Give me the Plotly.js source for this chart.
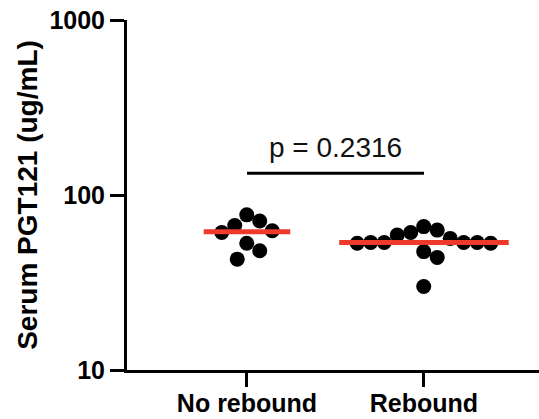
<!DOCTYPE html>
<html><head><meta charset="utf-8">
<script src="https://cdn.plot.ly/plotly-3.0.1.min.js"></script>
<style>html,body{margin:0;padding:0;background:#fff}#chart{width:539px;height:419px}</style>
</head><body><div id="chart"></div>
<script>
// ---- data ----
const categories = ['No rebound', 'Rebound'];
const noRebound = [77, 71, 67, 62.5, 61, 53, 48, 43];
const rebound = [66, 63, 61, 59, 56.5, 53.5, 53.5, 53.5, 53.5, 53, 53, 47.5, 44, 30];
const pValueText = 'p = 0.2316';
const yTickVals = [10, 100, 1000];
const yTickText = ['10', '100', '1000'];

// ---- layout constants ----
const W = 539, H = 419, M = {l: 127, r: 0, t: 20, b: 49};
const plotW = W - M.l - M.r, plotH = H - M.t - M.b;
const yRange = [1, 3];
const xRange = [-0.678, 1.65];
const pxPerX = plotW / (xRange[1] - xRange[0]);
const pxPerDecade = plotH / (yRange[1] - yRange[0]);
const DOT = 15;
const FONT = 'Liberation Sans, Arial, Helvetica, sans-serif';

// anisotropic greedy beeswarm (pixel offsets), then recentred
function swarm(vals, dx0, dy0) {
  const placed = [], out = [];
  vals.forEach(v => {
    const y = Math.log10(v) * pxPerDecade;
    let best = null;
    for (let k = 0; k < 800 && best === null; k++) {
      const cands = k === 0 ? [0] : [k * 0.5, -k * 0.5];
      for (const dx of cands) {
        if (placed.every(p => ((p.x - dx) / dx0) ** 2 + ((p.y - y) / dy0) ** 2 >= 1)) { best = dx; break; }
      }
    }
    placed.push({x: best, y});
    out.push(best);
  });
  const c = (Math.max(...out) + Math.min(...out)) / 2;
  return out.map(o => o - c);
}
function median(a) {
  const s = [...a].sort((p, q) => p - q), n = s.length;
  return n % 2 ? s[(n - 1) / 2] : (s[n / 2 - 1] + s[n / 2]) / 2;
}

const groups = [noRebound, rebound];
const traces = [];
const medTraces = [];
groups.forEach((vals, i) => {
  const offPx = swarm(vals, 13.5, 22);
  traces.push({
    type: 'scatter', mode: 'markers',
    x: offPx.map(o => i + o / pxPerX), y: vals,
    marker: {color: '#000', size: DOT, line: {width: 0}},
    hoverinfo: 'skip', showlegend: false
  });
  const hw = (Math.max(...offPx.map(Math.abs)) + 18) / pxPerX;
  const m = median(vals);
  medTraces.push({
    type: 'scatter', mode: 'lines',
    x: [i - hw, i + hw], y: [m, m],
    line: {color: '#ee3a2b', width: 5},
    hoverinfo: 'skip', showlegend: false
  });
});
const bracketY = 133;
traces.push(...medTraces);
traces.push({
  type: 'scatter', mode: 'lines', x: [0, 1], y: [bracketY, bracketY],
  line: {color: '#000', width: 3}, hoverinfo: 'skip', showlegend: false
});

const layout = {
  width: W, height: H,
  margin: M,
  paper_bgcolor: '#fff', plot_bgcolor: '#fff',
  font: {family: FONT, color: '#000'},
  showlegend: false,
  xaxis: {
    range: xRange, tickvals: [0, 1], ticktext: categories,
    ticks: 'outside', ticklen: 14, tickwidth: 3, tickcolor: '#000',
    showline: true, linewidth: 3, linecolor: '#000',
    showgrid: false, zeroline: false, fixedrange: true,
    ticklabelstandoff: -5,
    tickfont: {family: FONT, size: 25, color: '#000', weight: 'bold'}
  },
  yaxis: {
    type: 'log', range: yRange,
    tickvals: yTickVals, ticktext: yTickText,
    ticks: 'outside', ticklen: 14, tickwidth: 3, tickcolor: '#000',
    showline: true, linewidth: 3, linecolor: '#000',
    showgrid: false, zeroline: false, fixedrange: true,
    tickfont: {family: FONT, size: 25, color: '#000', weight: 'bold'},
    title: {text: 'Serum PGT121 (ug/mL)', font: {family: FONT, size: 28, color: '#000', weight: 'bold'}, standoff: 4}
  },
  annotations: [{
    xref: 'x', yref: 'y', x: 0.5, y: Math.log10(186),
    text: pValueText, showarrow: false,
    font: {family: FONT, size: 28, color: '#111'}
  }]
};
Plotly.newPlot('chart', traces, layout, {staticPlot: true, displayModeBar: false});
</script>
</body></html>
